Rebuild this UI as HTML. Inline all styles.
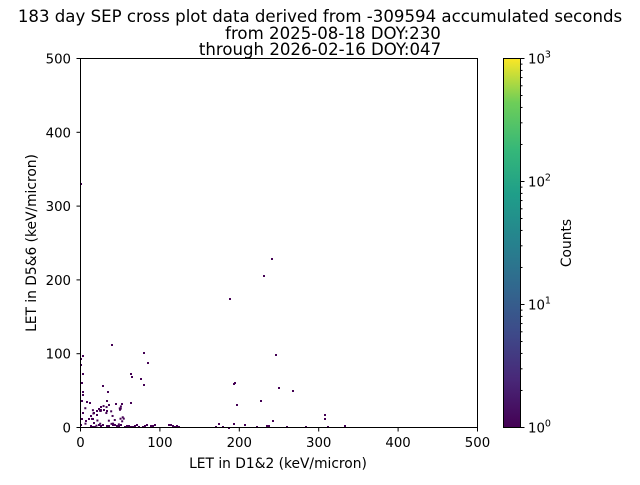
<!DOCTYPE html>
<html><head><style>
body{margin:0;background:#fff;}
svg{font-family:"DejaVu Sans","Liberation Sans",sans-serif;}
</style></head><body>
<svg id="s" width="640" height="480" xmlns="http://www.w3.org/2000/svg">
<defs><linearGradient id="v" x1="0" y1="1" x2="0" y2="0">
<stop offset="0" stop-color="#440154"/><stop offset="0.13" stop-color="#482878"/>
<stop offset="0.25" stop-color="#3e4989"/><stop offset="0.38" stop-color="#31688e"/>
<stop offset="0.5" stop-color="#26828e"/><stop offset="0.63" stop-color="#1f9e89"/>
<stop offset="0.75" stop-color="#35b779"/><stop offset="0.88" stop-color="#6ece58"/>
<stop offset="1" stop-color="#fde725"/></linearGradient></defs>
<g text-anchor="middle" font-size="16.6">
<text x="320" y="22">183 day SEP cross plot data derived from -309594 accumulated seconds</text>
<text x="333" y="39">from 2025-08-18 DOY:230</text>
<text x="320" y="55">through 2026-02-16 DOY:047</text>
</g>
<g id="pts" fill="#440154"></g>
<rect x="80.5" y="58.5" width="397" height="369" fill="none" stroke="#000" stroke-width="1"/>
<g stroke="#000" id="ticks"></g>
<g font-size="13.3" id="lab"></g>
<text x="278" y="468" font-size="13.8" text-anchor="middle">LET in D1&amp;2 (keV/micron)</text>
<text transform="translate(36,243) rotate(-90)" font-size="13.8" text-anchor="middle">LET in D5&amp;6 (keV/micron)</text>
<rect x="503" y="58" width="18" height="369" fill="url(#v)"/>
<rect x="503.5" y="58.5" width="17" height="369" fill="none" stroke="#000"/>
<text transform="translate(571,243) rotate(-90)" font-size="13.8" text-anchor="middle">Counts</text>
</svg>
<script>
var ns="http://www.w3.org/2000/svg",t=document.getElementById('ticks'),l=document.getElementById('lab'),p=document.getElementById('pts');
function el(g,n,a,tx){var e=document.createElementNS(ns,n);for(var k in a)e.setAttribute(k,a[k]);if(tx!==undefined)e.textContent=String(tx);g.appendChild(e);return e;}
for(var i=0;i<=5;i++){var x=80.5+i*79.4,y=427.5-i*73.8;
el(t,'line',{x1:x,x2:x,y1:427.5,y2:431.5});el(l,'text',{x:x,y:447,'text-anchor':'middle'},i*100);
el(t,'line',{x1:80.5,x2:76.5,y1:y,y2:y});el(l,'text',{x:71,y:y+5,'text-anchor':'end'},i*100);}
for(var j=0;j<4;j++){var y=427.5-j*123;el(t,'line',{x1:520.5,x2:524.5,y1:y,y2:y});
var tx=el(l,'text',{x:528,y:y+5},'10');el(tx,'tspan',{dy:-6,'font-size':'9.5'},''+j);}
for(var j=0;j<3;j++)for(var m=2;m<10;m++){var y=427.5-j*123-123*Math.log10(m);el(t,'line',{x1:520.5,x2:522.5,y1:y,y2:y});}
var P=[[111,344],[143,352],[147,362],[130,373],[131,376],[140,378],[143,384],[102,385],[107,391],[86,401],[89,402],[106,400],[108,404],[115,403],[121,403],[130,402],[106,410],[100,406],[96,410],[93,412],[90,415],[88,418],[96,414],[85,420],[93,422],[98,408],[103,409],[92,418],[80,183],[271,258],[263,275],[229,298],[234,382],[233,383],[275,354],[278,387],[292,390],[324,414],[324,418],[244,424],[266,425],[176,425],[215,426],[256,426],[228,427],[268,425],[233,423],[272,420],[236,404],[260,400],[344,425],[305,426],[327,426],[286,426],[222,426],[218,423]];
var seed=7;function r(){seed=(seed*16807)%2147483647;return seed/2147483647;}
for(var y=355;y<426;y+=3)if(r()<0.6)P.push([80+Math.floor(r()*3),y]);
for(var x=90;x<180;x+=2)if(r()<0.7)P.push([x,424+Math.floor(r()*3)]);
for(var k=0;k<30;k++)P.push([83+r()*40,405+r()*20]);
P.forEach(function(q){el(p,'rect',{x:q[0],y:q[1],width:2,height:2});});
</script>
</body></html>
